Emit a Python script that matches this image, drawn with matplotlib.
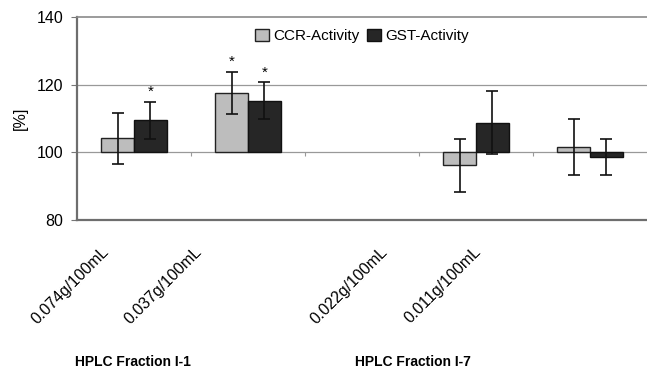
import numpy as np
import matplotlib.pyplot as plt

plt.rcParams['font.family'] = ['Liberation Sans', 'DejaVu Sans']

# data, slot 2 is an empty gap between the two fractions
slots = [0, 1, 3, 4]
labels = ["0.074g/100mL", "0.037g/100mL", "0.022g/100mL", "0.011g/100mL"]
ccr = [104.1, 117.5, 96.1, 101.5]
ccr_err = [7.5, 6.3, 7.8, 8.4]
gst = [109.4, 115.2, 108.7, 98.6]
gst_err = [5.5, 5.5, 9.3, 5.4]
ccr_star = [False, True, False, False]
gst_star = [True, True, False, False]
groups = ["HPLC Fraction I-1", "HPLC Fraction I-7"]

fig = plt.figure(figsize=(6.47, 3.69), dpi=100)
ax = fig.add_axes([0.119, 0.405, 0.881, 0.549])

x = np.array(slots, dtype=float)
w = 0.287
base = 100
ax.bar(x - w/2, np.array(ccr) - base, w, bottom=base, color="#bdbdbd",
       edgecolor="#222222", linewidth=1.0, label="CCR-Activity", zorder=3)
ax.bar(x + w/2, np.array(gst) - base, w, bottom=base, color="#262626",
       edgecolor="#111111", linewidth=1.0, label="GST-Activity", zorder=3)
ax.errorbar(x - w/2, ccr, yerr=ccr_err, fmt="none", ecolor="#111111",
            elinewidth=1.2, capsize=4, capthick=1.2, zorder=4)
ax.errorbar(x + w/2, gst, yerr=gst_err, fmt="none", ecolor="#111111",
            elinewidth=1.2, capsize=4, capthick=1.2, zorder=4)

for xi, v, e, s in zip(x - w/2, ccr, ccr_err, ccr_star):
    if s:
        ax.annotate("*", (xi, v + e), xytext=(0, 2), textcoords="offset points",
                    ha="center", va="bottom", fontsize=11)
for xi, v, e, s in zip(x + w/2, gst, gst_err, gst_star):
    if s:
        ax.annotate("*", (xi, v + e), xytext=(0, 2), textcoords="offset points",
                    ha="center", va="bottom", fontsize=11)

ax.set_xlim(-0.5, 4.5)
ax.set_ylim(80, 140)
ax.set_yticks([80, 100, 120, 140])
ax.tick_params(axis="y", labelsize=11.5, length=4, color="#777777", pad=6)
ax.set_xticks([])
ax.set_ylabel("[%]", fontsize=11.5, labelpad=6)
ax.axhline(120, color="#999999", linewidth=0.9, zorder=1)

for side in ["left", "bottom"]:
    ax.spines[side].set_color("#6e6e6e")
    ax.spines[side].set_linewidth(1.6)
ax.spines["top"].set_color("#8a8a8a")
ax.spines["top"].set_linewidth(1.2)
ax.spines["right"].set_visible(False)

# category axis crosses at 100
sec = ax.secondary_xaxis((base - 80) / 60)
sec.set_xticks([0.5, 1.5, 2.5, 3.5])
sec.set_xticklabels([])
sec.tick_params(length=3, color="#999999")
sec.spines["bottom"].set_color("#999999")
sec.spines["bottom"].set_linewidth(0.9)

ax.legend(loc="center", bbox_to_anchor=(0.5, 0.906), ncol=2, frameon=False,
          fontsize=11, handlelength=0.9, handleheight=0.9, handletextpad=0.3,
          columnspacing=0.5, borderpad=0)

# rotated concentration labels sit below the plot, closer together than the slots
for s, lab in zip(slots, labels):
    fig.text((101 + 93 * s) / 647, 1 - 244 / 369, lab, rotation=45,
             rotation_mode="anchor", ha="right", va="top", fontsize=11.5)

fig.text(133 / 647, 1 - 362 / 369, groups[0], ha="center", va="center",
         fontsize=10, fontweight="bold")
fig.text(413 / 647, 1 - 362 / 369, groups[1], ha="center", va="center",
         fontsize=10, fontweight="bold")

fig.savefig("out.png", dpi=100)
